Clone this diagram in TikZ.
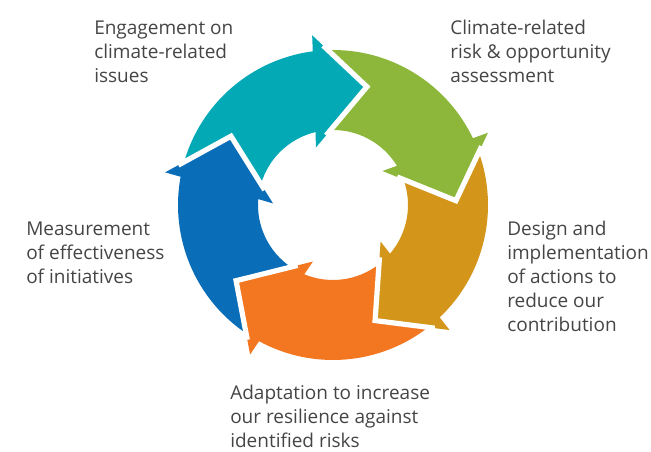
\documentclass[tikz,border=0pt]{standalone}
\usepackage{fontspec}
\setmainfont{Open Sans}
\usepackage{tikz}
\usetikzlibrary{calc}

\definecolor{ringteal}{HTML}{03A9B5}
\definecolor{ringgreen}{HTML}{8DB73B}
\definecolor{ringgold}{HTML}{D3961A}
\definecolor{ringorange}{HTML}{F37721}
\definecolor{ringblue}{HTML}{0A6DB7}
\definecolor{textgrey}{HTML}{454545}

\tikzset{
   cyclelabel/.style={anchor=base west, inner sep=0pt, align=left,
      text=textgrey, font=\fontsize{14.25}{18}\selectfont},
   whitegap/.style={draw=white, line width=3.9pt, line join=miter}
}

\begin{document}
\begin{tikzpicture}[x=0.75pt, y=0.75pt]
   \useasboundingbox (0,0) rectangle (651,452);

   % centre of the ring
   \coordinate (c) at (333,247);

   \begin{scope}[shift={(c)}, rotate=74]
      \fill [ringteal] (90:155) arc [start angle=90, end angle=23.5, radius=155]
         -- (23:171) -- (0:123) -- (32.5:60) -- (29.5:75)
         arc [start angle=29.5, end angle=90, radius=75] -- (72:123) -- cycle;
      \coordinate (t1) at (0:123);
      \coordinate (o1) at (23:171);
      \coordinate (i1) at (32.5:60);
   \end{scope}
   \begin{scope}[shift={(c)}, rotate=2]
      \fill [ringgreen] (90:155) arc [start angle=90, end angle=23.5, radius=155]
         -- (23:171) -- (0:123) -- (32.5:60) -- (29.5:75)
         arc [start angle=29.5, end angle=90, radius=75] -- (72:123) -- cycle;
      \coordinate (t2) at (0:123);
      \coordinate (o2) at (23:171);
      \coordinate (i2) at (32.5:60);
   \end{scope}
   \begin{scope}[shift={(c)}, rotate=-70]
      \fill [ringgold] (90:155) arc [start angle=90, end angle=23.5, radius=155]
         -- (23:171) -- (0:123) -- (32.5:60) -- (29.5:75)
         arc [start angle=29.5, end angle=90, radius=75] -- (72:123) -- cycle;
      \coordinate (t3) at (0:123);
      \coordinate (o3) at (23:171);
      \coordinate (i3) at (32.5:60);
   \end{scope}
   \begin{scope}[shift={(c)}, rotate=-142]
      \fill [ringorange] (90:155) arc [start angle=90, end angle=23.5, radius=155]
         -- (23:171) -- (0:123) -- (32.5:60) -- (29.5:75)
         arc [start angle=29.5, end angle=90, radius=75] -- (72:123) -- cycle;
      \coordinate (t4) at (0:123);
      \coordinate (o4) at (23:171);
      \coordinate (i4) at (32.5:60);
   \end{scope}
   \begin{scope}[shift={(c)}, rotate=146]
      \fill [ringblue] (90:155) arc [start angle=90, end angle=23.5, radius=155]
         -- (23:171) -- (0:123) -- (32.5:60) -- (29.5:75)
         arc [start angle=29.5, end angle=90, radius=75] -- (72:123) -- cycle;
      \coordinate (t5) at (0:123);
      \coordinate (o5) at (23:171);
      \coordinate (i5) at (32.5:60);
   \end{scope}

   % white gaps between the arrows
   \draw [whitegap] ($(t1)!0.8!(o1)$) -- (t1) -- ($(t1)!0.8!(i1)$);
   \draw [whitegap] ($(t2)!0.8!(o2)$) -- (t2) -- ($(t2)!0.8!(i2)$);
   \draw [whitegap] ($(t3)!0.8!(o3)$) -- (t3) -- ($(t3)!0.8!(i3)$);
   \draw [whitegap] ($(t4)!0.8!(o4)$) -- (t4) -- ($(t4)!0.8!(i4)$);
   \draw [whitegap] ($(t5)!0.8!(o5)$) -- (t5) -- ($(t5)!0.8!(i5)$);

   % anchor is the baseline of the last line
   \node (engage) at (94,369.5) [cyclelabel]
      {Engagement on\\climate-related\\issues};
   \node (assess) at (450,369.5) [cyclelabel]
      {Climate-related\\risk \& opportunity\\assessment};
   \node (design) at (507,120) [cyclelabel]
      {Design and\\implementation\\of actions to\\reduce our\\contribution};
   \node (adapt) at (230,4) [cyclelabel]
      {Adaptation to increase\\our resilience against\\identified risks};
   \node (measure) at (26,168) [cyclelabel]
      {Measurement\\of effectiveness\\of initiatives};
\end{tikzpicture}
\end{document}
